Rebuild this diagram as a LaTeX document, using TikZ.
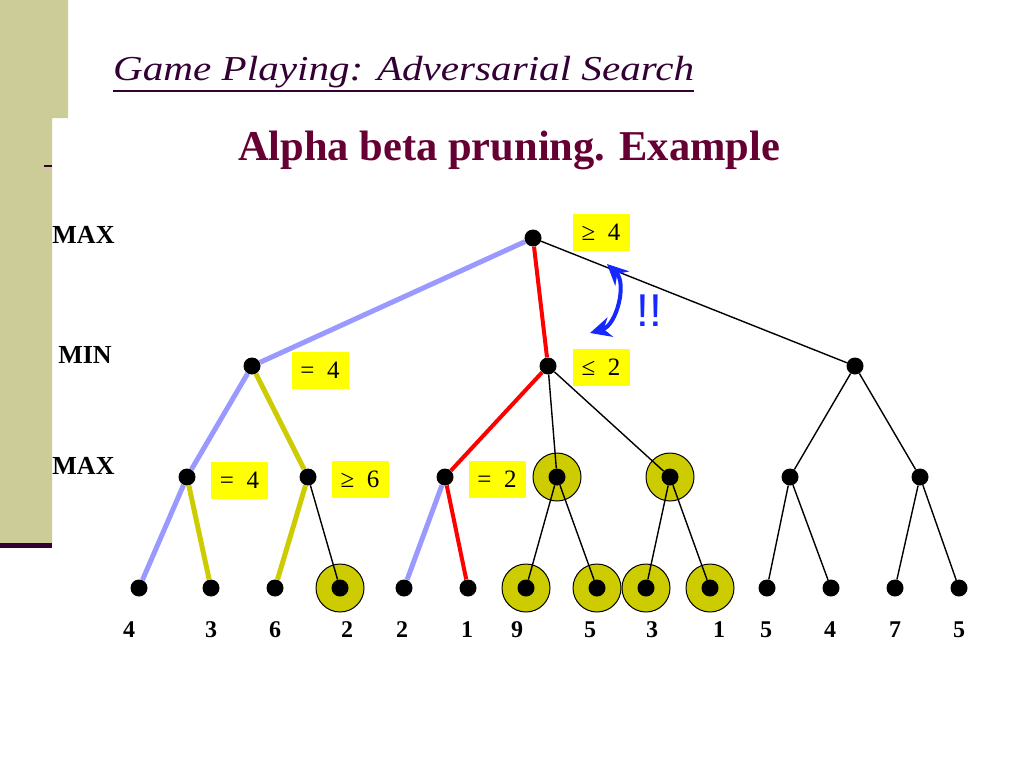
\documentclass[tikz,border=0pt]{standalone}
\usepackage{fontspec}
\setmainfont{Liberation Serif}
\newfontfamily\bangfont{Liberation Sans}
\usepackage{graphicx}
\usetikzlibrary{arrows.meta}

\definecolor{khaki}{RGB}{204,204,153}
\definecolor{plum}{RGB}{51,0,51}
\definecolor{wine}{RGB}{102,0,51}
\definecolor{pblue}{RGB}{153,153,255}
\definecolor{mustard}{RGB}{204,204,0}
\definecolor{hilite}{RGB}{255,255,0}
\definecolor{arrowblue}{RGB}{20,40,255}

\tikzset{
  dot/.style={circle, fill=black, inner sep=0pt, minimum size=17pt},
  ring/.style={circle, draw=black, line width=1pt, fill=mustard, inner sep=0pt, minimum size=48pt},
  val/.style={fill=hilite, inner sep=0pt, minimum width=57pt, minimum height=37pt, font=\fontsize{25}{25}\selectfont},
  lvl/.style={anchor=base, inner sep=0pt, font=\fontsize{26}{26}\selectfont\bfseries},
  leaf/.style={anchor=base, inner sep=0pt, font=\fontsize{24}{24}\selectfont\bfseries},
  good/.style={pblue, line width=5pt},
  pick/.style={mustard, line width=5pt},
  best/.style={red, line width=4pt},
  cut/.style={black, line width=1.4pt}
}

\begin{document}
\begin{tikzpicture}[x=1pt, y=-1pt, >={Stealth[length=21pt,width=20pt]}]
\useasboundingbox (0,0) rectangle (1024,768);

% slide frame
\fill[khaki] (0,0) -- (68,0) -- (68,118) -- (52,118) -- (52,543) -- (0,543) -- cycle;
\fill[plum] (0,543) rectangle (52,548);
\draw[plum, line width=1.5pt] (44,166) -- (52,166);

\node[anchor=base west, inner sep=0pt, text=plum, font=\fontsize{35}{35}\selectfont\itshape] (title) at (113,81) {\scalebox{1.175}[1]{Game Playing: Adversarial Search}};
\draw[plum, line width=2pt] ([yshift=-10pt]title.base west) -- ([yshift=-10pt]title.base east);
\node[anchor=base west, inner sep=0pt, text=wine, font=\fontsize{42.5}{42.5}\selectfont\bfseries] (sub) at (238,160) {Alpha beta pruning. Example};

\node[lvl] (max1) at (83.5,243) {MAX};
\node[lvl] (min1) at (85,363) {MIN};
\node[lvl] (max2) at (83.5,474) {MAX};

% pruned nodes
\node[ring] at (557,477) {};
\node[ring] at (670,477) {};
\node[ring] at (340,588) {};
\node[ring] at (526,588) {};
\node[ring] at (597,588) {};
\node[ring] at (646,588) {};
\node[ring] at (710,588) {};

\node[dot] (root) at (533,238) {};
\node[dot] (a) at (252,366) {};
\node[dot] (b) at (548,366) {};
\node[dot] (c) at (855,366) {};
\node[dot] (a1) at (187,477) {};
\node[dot] (a2) at (308,477) {};
\node[dot] (b1) at (445,477) {};
\node[dot] (b2) at (557,477) {};
\node[dot] (b3) at (670,477) {};
\node[dot] (c1) at (790,477) {};
\node[dot] (c2) at (920,477) {};
\node[dot] (l1) at (139,588) {};
\node[dot] (l2) at (211,588) {};
\node[dot] (l3) at (275,588) {};
\node[dot] (l4) at (340,588) {};
\node[dot] (l5) at (404,588) {};
\node[dot] (l6) at (468,588) {};
\node[dot] (l7) at (526,588) {};
\node[dot] (l8) at (597,588) {};
\node[dot] (l9) at (646,588) {};
\node[dot] (l10) at (710,588) {};
\node[dot] (l11) at (767,588) {};
\node[dot] (l12) at (831,588) {};
\node[dot] (l13) at (895,588) {};
\node[dot] (l14) at (959,588) {};

\draw[good] (root) -- (a);
\draw[best] (root) -- (b);
\draw[cut] (root) -- (c);
\draw[good] (a) -- (a1);
\draw[pick] (a) -- (a2);
\draw[best] (b) -- (b1);
\draw[cut] (b) -- (b2);
\draw[cut] (b) -- (b3);
\draw[cut] (c) -- (c1);
\draw[cut] (c) -- (c2);
\draw[good] (a1) -- (l1);
\draw[pick] (a1) -- (l2);
\draw[pick] (a2) -- (l3);
\draw[cut] (a2) -- (l4);
\draw[good] (b1) -- (l5);
\draw[best] (b1) -- (l6);
\draw[cut] (b2) -- (l7);
\draw[cut] (b2) -- (l8);
\draw[cut] (b3) -- (l9);
\draw[cut] (b3) -- (l10);
\draw[cut] (c1) -- (l11);
\draw[cut] (c1) -- (l12);
\draw[cut] (c2) -- (l13);
\draw[cut] (c2) -- (l14);

\node[leaf] (t1) at (129,637) {4};
\node[leaf] (t2) at (211,637) {3};
\node[leaf] (t3) at (275,637) {6};
\node[leaf] (t4) at (347,637) {2};
\node[leaf] (t5) at (402,637) {2};
\node[leaf] (t6) at (467,637) {1};
\node[leaf] (t7) at (517,637) {9};
\node[leaf] (t8) at (590,637) {5};
\node[leaf] (t9) at (652,637) {3};
\node[leaf] (t10) at (719,637) {1};
\node[leaf] (t11) at (766,637) {5};
\node[leaf] (t12) at (830,637) {4};
\node[leaf] (t13) at (895,637) {7};
\node[leaf] (t14) at (959,637) {5};

\node[val] (vroot) at (601,232) {≥ \ 4};
\node[val] (va) at (320,370) {= \ 4};
\node[val] (vb) at (601,367) {≤ \ 2};
\node[val] (va1) at (239.5,480) {= \ 4};
\node[val] (va2) at (360,479) {≥ \ 6};
\node[val] (vb1) at (497,479) {= \ 2};

\coordinate (up) at (607,264);
\coordinate (down) at (590,333);
\draw[<->, arrowblue, line width=4pt] (up) to[bend left=60] (down);
\node[anchor=base, inner sep=0pt, text=arrowblue, font=\fontsize{46}{46}\selectfont\bangfont] (bang) at (649,326) {!!};
\end{tikzpicture}
\end{document}
